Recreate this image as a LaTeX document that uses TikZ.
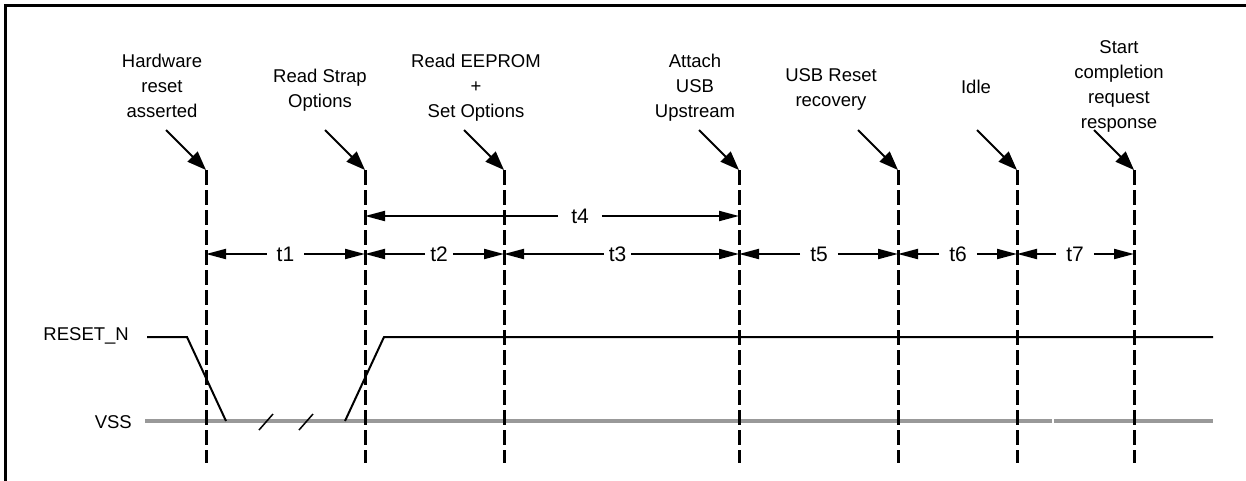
\documentclass[tikz,border=0pt]{standalone}
\usepackage{fontspec}
\setmainfont{Liberation Sans}
\usetikzlibrary{arrows.meta}
\tikzset{
  txt/.style={font=\fontsize{18.5}{25}\selectfont, align=center, inner sep=0pt, anchor=north},
  sigtxt/.style={font=\fontsize{18.5}{22}\selectfont, inner sep=0pt, anchor=base east},
  tlbl/.style={font=\fontsize{21}{24}\selectfont, inner ysep=0pt, inner xsep=#1},
  marker/.style={line width=3pt, dash pattern=on 15pt off 5pt},
  callout/.style={line width=2pt, -{Triangle[length=19pt,width=14pt]}},
  dimarr/.style={line width=2pt, -{Triangle[length=20pt,width=10pt]}},
  sig/.style={line width=2pt, line join=miter},
  vss/.style={line width=3.5pt, color=black!40},
}
\begin{document}
\begin{tikzpicture}[x=1pt,y=-1pt]
\useasboundingbox (0,0) rectangle (1246,480);
% frame
\draw[line width=2.5pt] (5.5,482) -- (5.5,5.5) -- (1248,5.5);

% marker line coordinates
\foreach \n/\x in {1/206,2/365,3/504,4/739,5/898,6/1017,7/1134}{
  \coordinate (L\n top) at (\x,170);
  \coordinate (L\n bot) at (\x,463);
  \coordinate (A\n) at (\x-40,130);
}

% signals
\draw[vss] (145,421) coordinate (v0) -- (1052,421) coordinate (v1);
\draw[vss] (1054,421) coordinate (v2) -- (1213,421) coordinate (v3);
\draw[sig] (147,337) coordinate (r0) -- (187,337) coordinate (r1) -- (226,421) coordinate (r2);
\draw[sig] (345,421) coordinate (r3) -- (384,337) coordinate (r4) -- (1213,337) coordinate (r5);
\draw[line width=1.5pt] (259,430) coordinate (b0) -- (273,414) coordinate (b1);
\draw[line width=1.5pt] (299,430) coordinate (b2) -- (313,414) coordinate (b3);
\node[sigtxt] (resetn) at (129,340) {RESET\_N};
\node[sigtxt] (vsslbl) at (132,428) {VSS};

% dashed marker lines
\foreach \n in {1,...,7}{
  \draw[marker] (L\n top) -- (L\n bot);
  \draw[callout] (A\n) -- (L\n top);
}

% event labels
\node[txt] (e1) at (162,54) {Hardware\\reset\\asserted};
\node[txt] (e2) at (320,69) {Read Strap\\Options};
\node[txt] (e3) at (476,54) {Read EEPROM\\+\\Set Options};
\node[txt] (e4) at (695,54) {Attach\\USB\\Upstream};
\node[txt] (e5) at (831,68) {USB Reset\\recovery};
\node[txt] (e6) at (976,80) {Idle};
\node[txt] (e7) at (1119,40.5) {Start\\completion\\request\\response};

% interval labels
\node[tlbl=10pt] (t1) at (285.5,254) {t1};
\node[tlbl=5pt] (t2) at (439,254) {t2};
\node[tlbl=5pt] (t3) at (617.5,254) {t3};
\node[tlbl=13pt] (t4) at (580,216) {t4};
\node[tlbl=10pt] (t5) at (819,254) {t5};
\node[tlbl=10pt] (t6) at (958,254) {t6};
\node[tlbl=10pt] (t7) at (1075,254) {t7};

\draw[dimarr] (t1.west) -- (t1.west -| L1top);
\draw[dimarr] (t1.east) -- (t1.east -| L2top);
\draw[dimarr] (t2.west) -- (t2.west -| L2top);
\draw[dimarr] (t2.east) -- (t2.east -| L3top);
\draw[dimarr] (t3.west) -- (t3.west -| L3top);
\draw[dimarr] (t3.east) -- (t3.east -| L4top);
\draw[dimarr] (t4.west) -- (t4.west -| L2top);
\draw[dimarr] (t4.east) -- (t4.east -| L4top);
\draw[dimarr] (t5.west) -- (t5.west -| L4top);
\draw[dimarr] (t5.east) -- (t5.east -| L5top);
\draw[dimarr] (t6.west) -- (t6.west -| L5top);
\draw[dimarr] (t6.east) -- (t6.east -| L6top);
\draw[dimarr] (t7.west) -- (t7.west -| L6top);
\draw[dimarr] (t7.east) -- (t7.east -| L7top);
\end{tikzpicture}
\end{document}
